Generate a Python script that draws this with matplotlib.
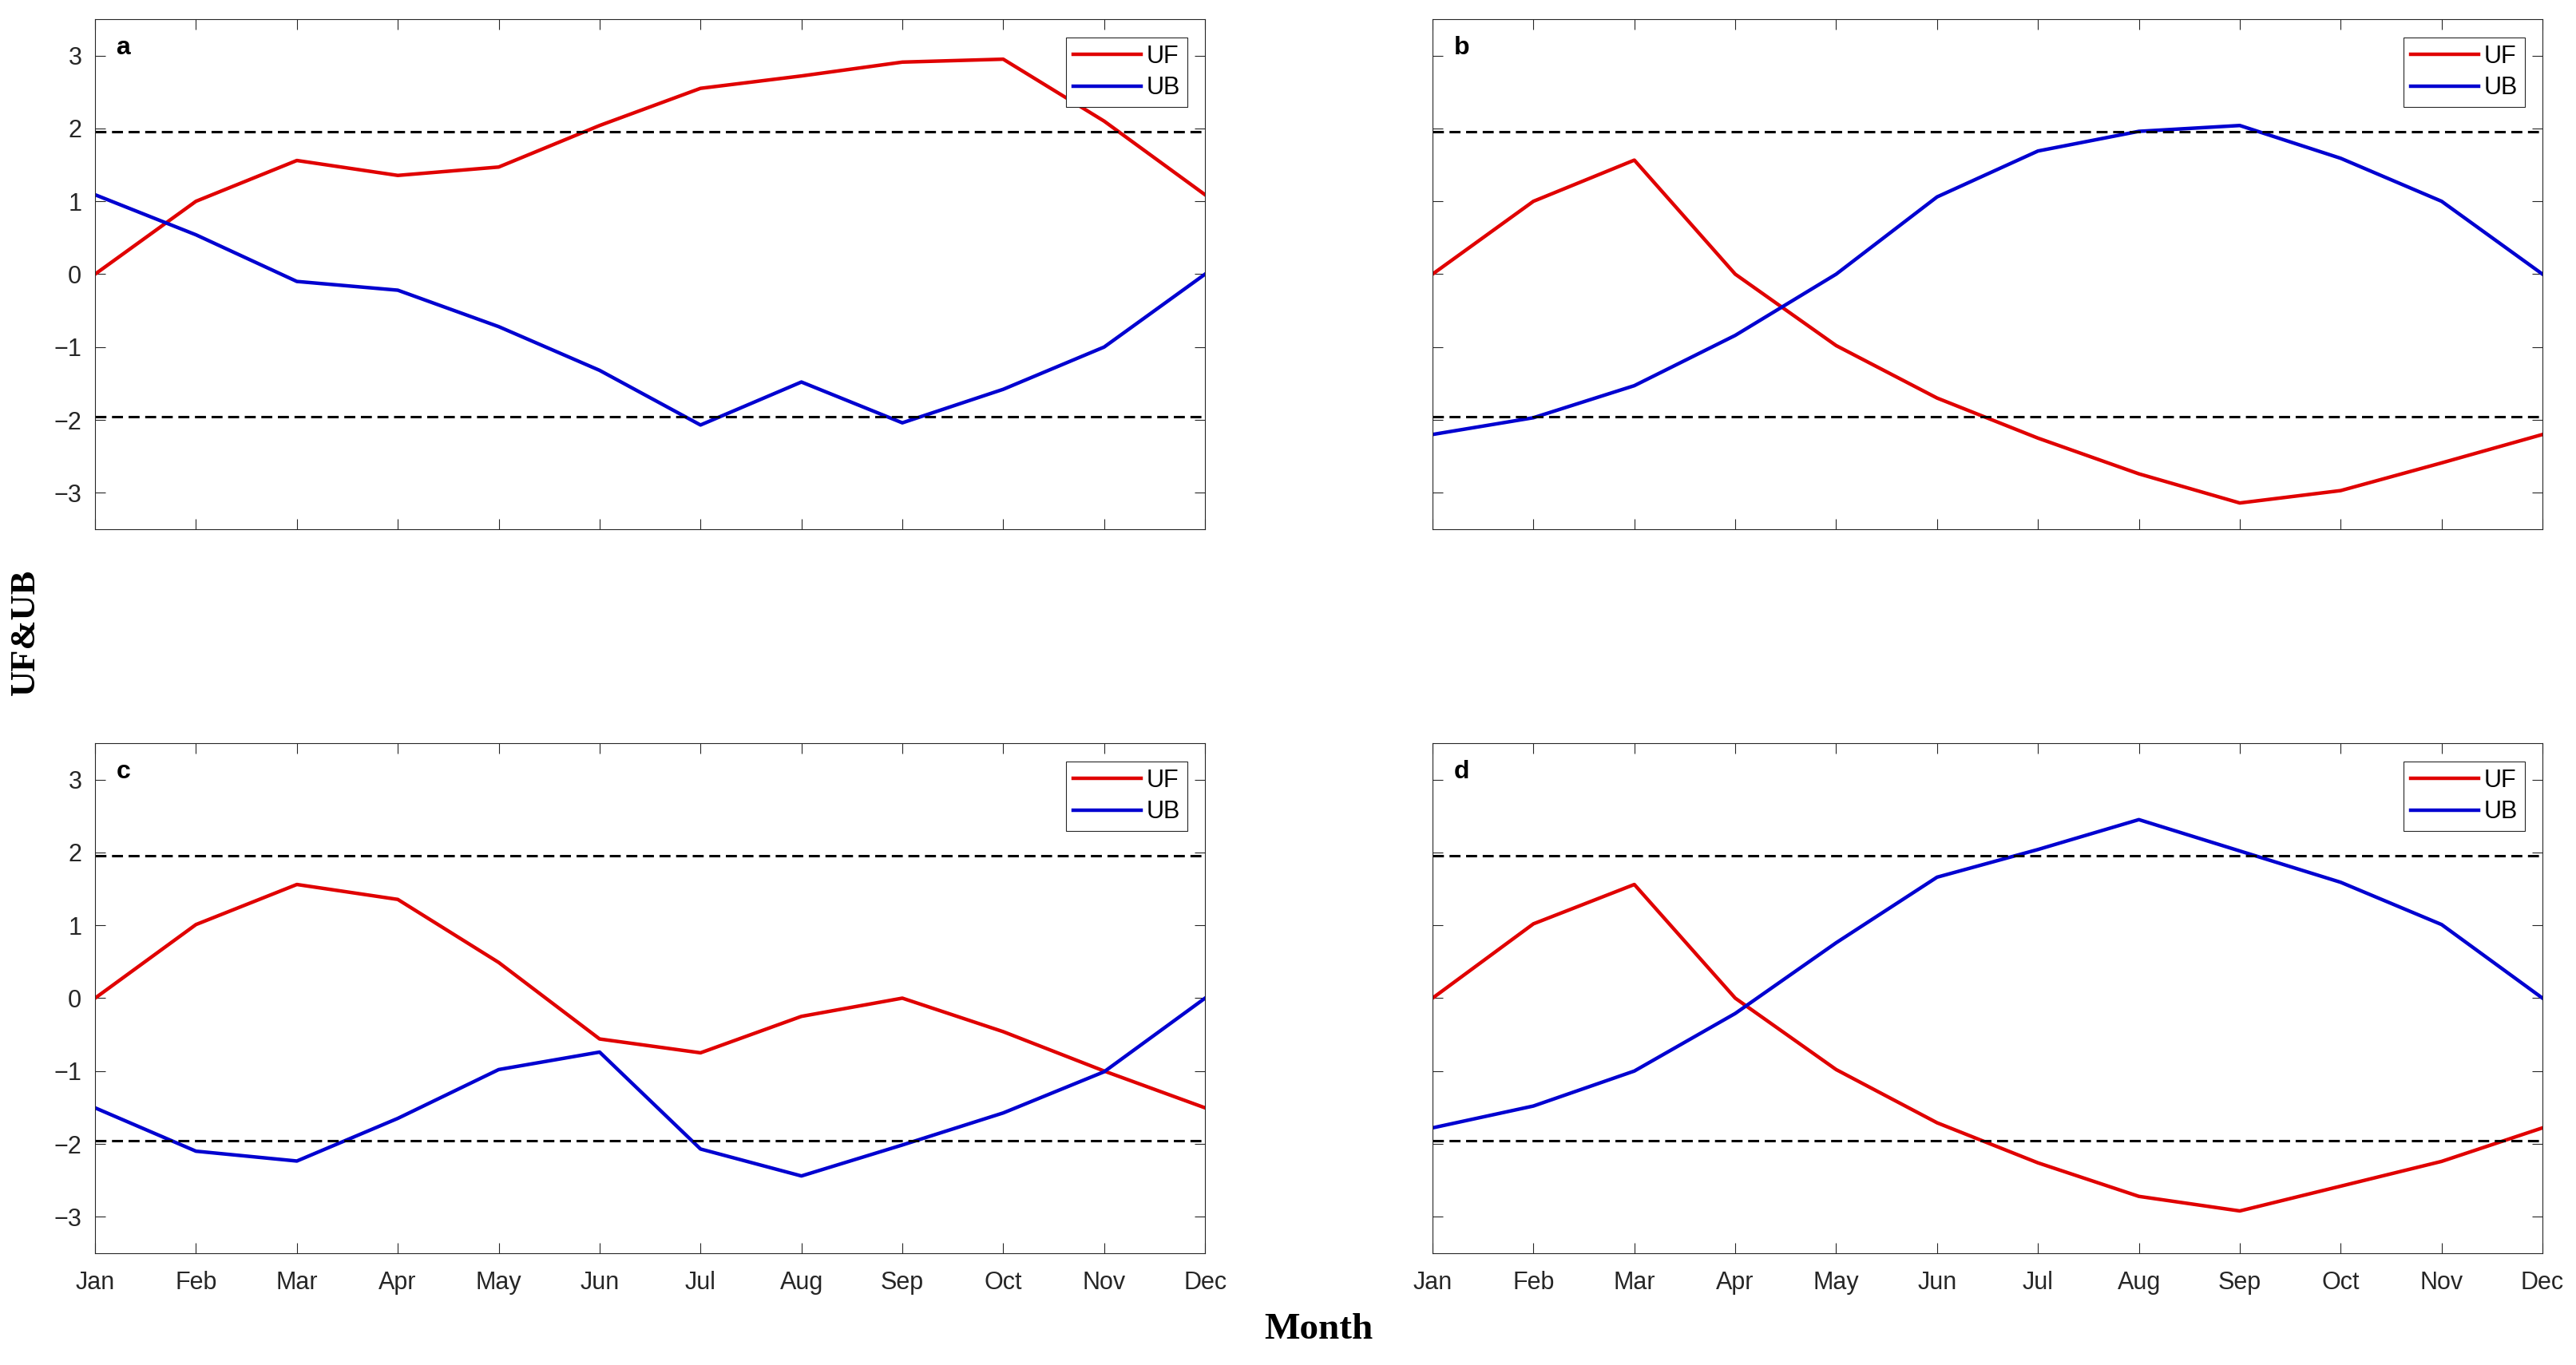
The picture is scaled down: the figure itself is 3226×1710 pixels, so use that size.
import numpy as np
import matplotlib
matplotlib.use("Agg")
import matplotlib.pyplot as plt

plt.rcParams['font.family'] = ['Liberation Sans', 'DejaVu Sans']

# Month axis
months = ['Jan', 'Feb', 'Mar', 'Apr', 'May', 'Jun',
          'Jul', 'Aug', 'Sep', 'Oct', 'Nov', 'Dec']
x = np.arange(1, 13)

# Panel a
uf_a = [0, 1.00, 1.56, 1.355, 1.47, 2.04, 2.55, 2.72, 2.91, 2.95, 2.10, 1.09]
ub_a = [1.09, 0.54, -0.10, -0.22, -0.72, -1.32, -2.07, -1.48, -2.04, -1.58, -1.00, 0]

# Panel b
uf_b = [0, 1.00, 1.565, 0, -0.98, -1.70, -2.25, -2.74, -3.14, -2.97, -2.59, -2.20]
ub_b = [-2.20, -1.97, -1.53, -0.84, 0, 1.06, 1.69, 1.96, 2.04, 1.59, 1.00, 0]

# Panel c
uf_c = [0, 1.01, 1.56, 1.355, 0.49, -0.56, -0.75, -0.25, 0, -0.46, -1.00, -1.505]
ub_c = [-1.505, -2.10, -2.235, -1.65, -0.98, -0.74, -2.07, -2.44, -2.015, -1.575, -1.01, 0]

# Panel d
uf_d = [0, 1.02, 1.56, 0, -0.98, -1.71, -2.26, -2.72, -2.92, -2.58, -2.24, -1.78]
ub_d = [-1.78, -1.48, -1.00, -0.21, 0.76, 1.66, 2.04, 2.45, 2.02, 1.59, 1.01, 0]

panel_labels = ['a', 'b', 'c', 'd']
crit = 1.96  # 95% significance level

fig = plt.figure(figsize=(32.26, 17.1), dpi=100)

w, h = 0.4309, 0.3737
positions = [
    [0.0369, 0.6123, w, h],
    [0.5561, 0.6123, w, h],
    [0.0369, 0.0819, w, h],
    [0.5561, 0.0819, w, h],
]
series = [(uf_a, ub_a), (uf_b, ub_b), (uf_c, ub_c), (uf_d, ub_d)]

red = '#E00000'
blue = '#0000D0'

for i, (pos, (uf, ub)) in enumerate(zip(positions, series)):
    ax = fig.add_axes(pos)
    ax.plot(x, uf, color=red, lw=3.2, label='UF')
    ax.plot(x, ub, color=blue, lw=3.2, label='UB')
    ax.axhline(crit, color='black', lw=2.2, linestyle=(0, (4.5, 2.3)))
    ax.axhline(-crit, color='black', lw=2.2, linestyle=(0, (4.5, 2.3)))

    ax.set_xlim(1, 12)
    ax.set_ylim(-3.5, 3.5)
    ax.set_xticks(x)
    ax.set_yticks([-3, -2, -1, 0, 1, 2, 3])
    ax.tick_params(direction='in', length=9.5, width=0.8, top=True, right=True,
                   labelsize=22, colors='#262626')
    ax.tick_params(axis='x', pad=16)
    ax.tick_params(axis='y', pad=12)
    if i >= 2:
        ax.set_xticklabels(months)
    else:
        ax.set_xticklabels([])
    if i % 2 == 1:
        ax.set_yticklabels([])
    for s in ax.spines.values():
        s.set_linewidth(0.8)
        s.set_color('#262626')

    ax.text(0.019, 0.967, panel_labels[i], transform=ax.transAxes,
            fontsize=23, fontweight='bold', va='top', ha='left')

    leg = ax.legend(loc='upper right', bbox_to_anchor=(0.984, 0.964),
                    borderaxespad=0, fontsize=22, fancybox=False,
                    framealpha=1, edgecolor='#262626', handlelength=2.8,
                    handletextpad=0.2, borderpad=0.3, labelspacing=0.3)
    leg.get_frame().set_linewidth(0.8)

fig.text(0.010, 0.537, 'UF&UB', rotation=90, ha='center', va='center',
         fontsize=32, fontweight='bold', family='Liberation Serif')
fig.text(0.512, 0.026, 'Month', ha='center', va='center',
         fontsize=34, fontweight='bold', family='Liberation Serif')

fig.savefig('out.png', dpi=100)
